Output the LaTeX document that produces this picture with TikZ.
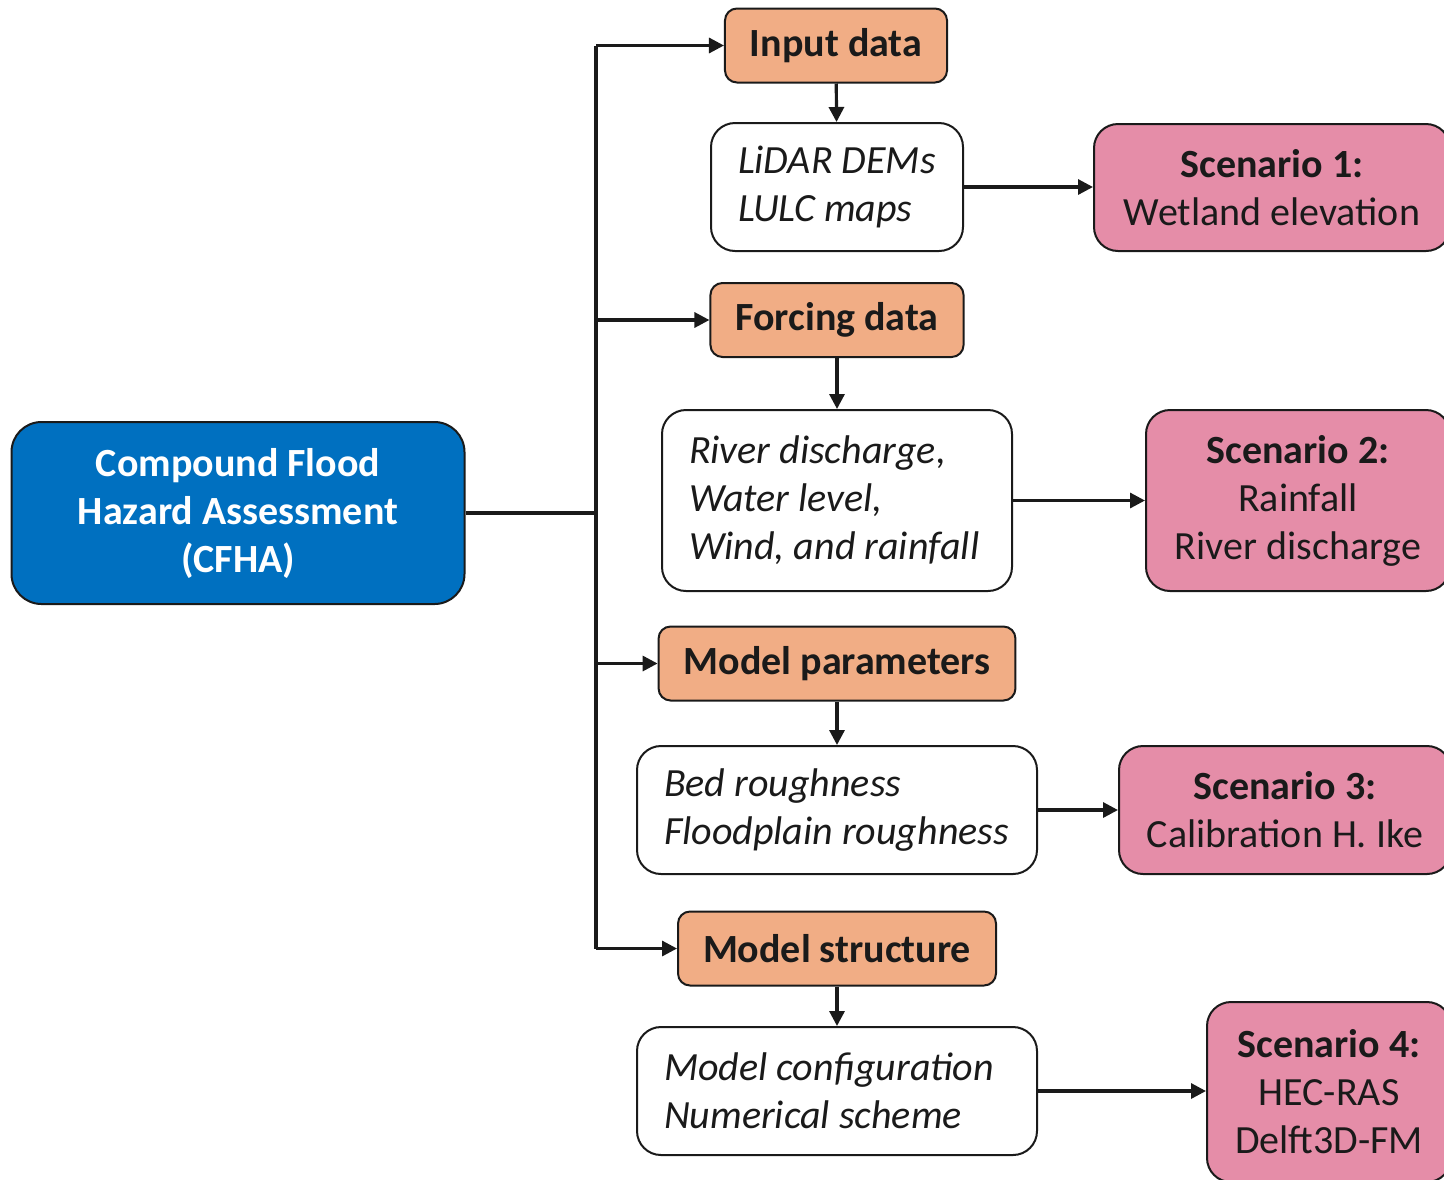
\documentclass[tikz,border=0pt]{standalone}
\usepackage{fontspec}
\setmainfont{Carlito}
\usepackage{tikz}
\usetikzlibrary{positioning, arrows.meta}
\usepackage{xcolor}

\definecolor{cfhablue}{HTML}{0070C0}
\definecolor{steporange}{HTML}{F1AD85}
\definecolor{scenpink}{HTML}{E58DA8}
\definecolor{inkgray}{HTML}{1A1A1A}

\newcommand{\boxfont}{\fontsize{20pt}{24pt}\selectfont}

\tikzset{
    basebox/.style={draw=inkgray, line width=1pt, text=inkgray, font=\boxfont},
    mainbox/.style={basebox, fill=cfhablue, text=white, font=\boxfont\bfseries,
        rounded corners=15pt, align=flush center, minimum width=226.5pt, minimum height=91pt},
    stepbox/.style={basebox, fill=steporange, font=\boxfont\bfseries,
        rounded corners=6pt, inner xsep=12.5pt, minimum height=37pt},
    databox/.style={basebox, fill=white, font=\boxfont\itshape,
        rounded corners=12pt, align=flush left, inner xsep=13.5pt, text width=#1-27pt,
        minimum width=#1},
    scenbox/.style={basebox, fill=scenpink, rounded corners=12pt, align=flush center,
        minimum width=#1},
    link/.style={draw=inkgray, line width=1.6pt},
    arrow/.style={link, -{Triangle[length=7.5pt, width=7.5pt]}}
}

\begin{document}
\begin{tikzpicture}[x=0.5pt, y=-0.5pt]
    \useasboundingbox (0,0) rectangle (1444,1179);
    \clip (0,0) rectangle (1444,1179);

    % Main box
    \node[mainbox] (cfha) at (238,513) {Compound Flood\\Hazard Assessment\\(CFHA)};

    % Input data
    \node[stepbox] (in) at (836,45.5) {Input data};
    \node[databox=126pt, minimum height=64pt] (indata) at (837,187) {LiDAR DEMs\\LULC maps};
    \node[scenbox=178pt, minimum height=63.5pt] (sc1) at (1272,187.5)
        {\textbf{Scenario 1:}\\Wetland elevation};

    % Forcing data
    \node[stepbox] (forc) at (837,320) {Forcing data};
    \node[databox=175pt, minimum height=90.5pt] (forcdata) at (837,500.5)
        {River discharge,\\Water level,\\Wind, and rainfall};
    \node[scenbox=152pt, minimum height=90.5pt] (sc2) at (1298,500.5)
        {\textbf{Scenario 2:}\\Rainfall\\River discharge};

    % Model parameters
    \node[stepbox] (par) at (837,663.5) {Model parameters};
    \node[databox=200pt, minimum height=64pt] (pardata) at (837,810)
        {Bed roughness\\Floodplain roughness};
    \node[scenbox=166pt, minimum height=64pt] (sc3) at (1285,810)
        {\textbf{Scenario 3:}\\Calibration H. Ike};

    % Model structure
    \node[stepbox] (str) at (837,948.5) {Model structure};
    \node[databox=200pt, minimum height=64pt] (strdata) at (837,1091)
        {Model configuration\\Numerical scheme};
    \node[scenbox=122pt, minimum height=90pt] (sc4) at (1329,1092)
        {\textbf{Scenario 4:}\\HEC-RAS\\Delft3D-FM};

    % Trunk and branches
    \coordinate (trunk) at (596,513);
    \draw[link] (cfha.east) -- (trunk);
    \draw[link] (trunk |- in.west) -- (trunk |- str.west);
    \foreach \s in {in, forc, par, str}
        \draw[arrow] (trunk |- \s.west) -- (\s.west);

    % Down arrows and scenario arrows
    \draw[arrow] (in) -- (indata);
    \draw[arrow] (forc) -- (forcdata);
    \draw[arrow] (par) -- (pardata);
    \draw[arrow] (str) -- (strdata);
    \foreach \d/\s in {indata/sc1, forcdata/sc2, pardata/sc3, strdata/sc4}
        \draw[arrow] (\d.east) -- (\d.east -| \s.west);
\end{tikzpicture}
\end{document}
